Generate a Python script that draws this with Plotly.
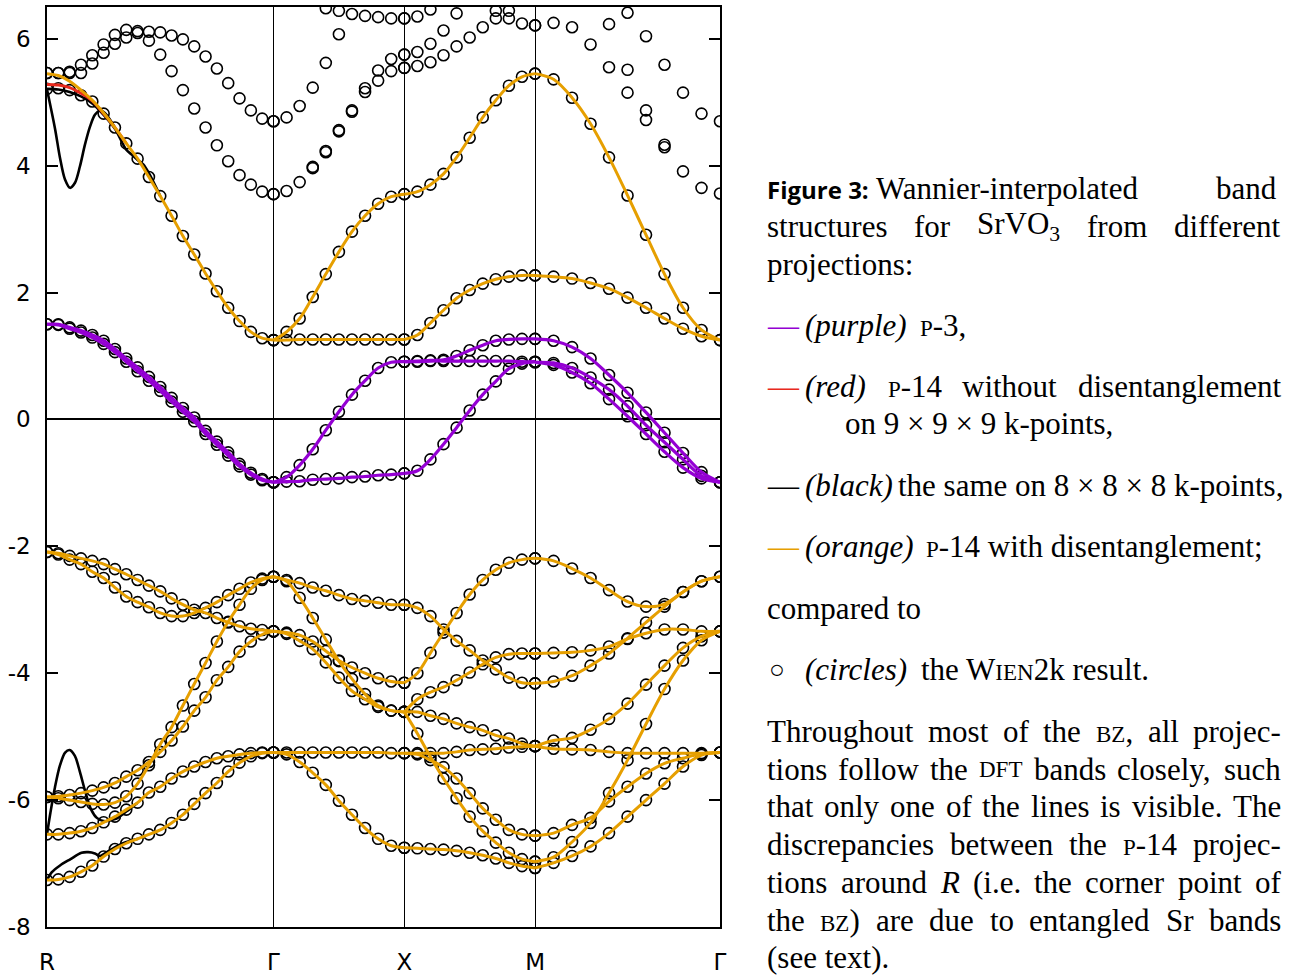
import numpy as np
import plotly.graph_objects as go

# ---------------- k-path ----------------
SYM_LABELS = ["R", "Γ", "X", "M", "Γ"]
SEG_LEN = [0.8660, 0.5000, 0.5000, 0.7071]
SEG_NK = [21, 11, 11, 11]
K_SYM = np.concatenate([[0.0], np.cumsum(SEG_LEN)])

# ---------------- band energies (eV) ----------------
# R - Gamma (21 k-points)
RG_T1 = [1.50, 1.50, 1.45, 1.40, 1.33, 1.24, 1.11, 0.96, 0.82, 0.67, 0.51, 0.34, 0.18, 0.03, -0.18, -0.35, -0.52, -0.70, -0.84, -0.94, -0.99]
RG_T2 = [1.50, 1.49, 1.43, 1.37, 1.29, 1.19, 1.06, 0.91, 0.76, 0.61, 0.45, 0.28, 0.12, -0.03, -0.23, -0.40, -0.57, -0.74, -0.87, -0.96, -0.99]
RG_EG = [5.21, 5.22, 5.19, 5.11, 5.01, 4.82, 4.60, 4.35, 4.11, 3.82, 3.52, 3.21, 2.89, 2.60, 2.30, 2.02, 1.76, 1.55, 1.38, 1.28, 1.25]
RG_A = [-2.09, -2.11, -2.15, -2.19, -2.23, -2.28, -2.36, -2.44, -2.53, -2.62, -2.71, -2.82, -2.92, -3.00, -3.05, -3.13, -3.20, -3.26, -3.30, -3.32, -3.34]
RG_B = [-2.09, -2.13, -2.21, -2.28, -2.40, -2.50, -2.65, -2.79, -2.88, -2.96, -3.05, -3.10, -3.10, -3.05, -2.97, -2.88, -2.77, -2.67, -2.57, -2.51, -2.48]
RG_S1 = [-5.95, -5.97, -6.00, -6.03, -6.06, -6.07, -6.04, -5.94, -5.74, -5.45, -5.12, -4.85, -4.51, -4.17, -3.84, -3.50, -3.19, -2.92, -2.67, -2.53, -2.48]
RG_S2 = [-5.95, -5.94, -5.92, -5.89, -5.85, -5.80, -5.73, -5.63, -5.53, -5.40, -5.24, -5.06, -4.84, -4.59, -4.38, -4.11, -3.90, -3.66, -3.50, -3.39, -3.34]
RG_C = [-6.54, -6.54, -6.52, -6.49, -6.44, -6.35, -6.26, -6.15, -6.04, -5.88, -5.79, -5.66, -5.55, -5.47, -5.40, -5.34, -5.31, -5.28, -5.26, -5.25, -5.25]
RG_D = [-7.26, -7.25, -7.21, -7.13, -7.03, -6.89, -6.77, -6.68, -6.61, -6.54, -6.47, -6.36, -6.23, -6.06, -5.89, -5.73, -5.55, -5.41, -5.31, -5.26, -5.25]

# Gamma - X (11 k-points)
GX_T_UP = [-0.99, -0.91, -0.72, -0.47, -0.17, 0.12, 0.39, 0.61, 0.81, 0.90, 0.91]
GX_T_FLAT = [-0.99, -0.98, -0.975, -0.95, -0.94, -0.93, -0.91, -0.90, -0.88, -0.87, -0.85]
GX_EG_UP = [1.25, 1.38, 1.59, 1.93, 2.29, 2.64, 2.96, 3.21, 3.40, 3.51, 3.55]
GX_EG_FLAT = [1.25, 1.25, 1.26, 1.26, 1.26, 1.26, 1.26, 1.26, 1.26, 1.26, 1.26]
GX_1 = [-2.48, -2.53, -2.58, -2.65, -2.70, -2.77, -2.83, -2.86, -2.89, -2.92, -2.92]
GX_2 = [-2.48, -2.55, -2.81, -3.13, -3.47, -3.81, -4.09, -4.33, -4.51, -4.59, -4.61]
GX_3 = [-3.34, -3.36, -3.40, -3.50, -3.65, -3.80, -3.91, -4.00, -4.08, -4.13, -4.15]
GX_4 = [-3.34, -3.38, -3.49, -3.62, -3.83, -4.07, -4.28, -4.41, -4.53, -4.59, -4.61]
GX_5 = [-5.25, -5.25, -5.25, -5.25, -5.25, -5.25, -5.25, -5.25, -5.25, -5.26, -5.26]
GX_6 = [-5.25, -5.28, -5.40, -5.57, -5.76, -6.01, -6.23, -6.44, -6.61, -6.72, -6.75]

# X - M (11 k-points)
XM_T_LOW = [-0.85, -0.81, -0.63, -0.39, -0.13, 0.14, 0.39, 0.60, 0.80, 0.88, 0.91]
XM_T_FLAT = [0.91, 0.91, 0.92, 0.92, 0.92, 0.92, 0.92, 0.92, 0.92, 0.91, 0.91]
XM_T_UP = [0.91, 0.92, 0.93, 0.94, 1.00, 1.09, 1.17, 1.24, 1.26, 1.27, 1.27]
XM_EG_UP = [3.55, 3.59, 3.70, 3.87, 4.13, 4.44, 4.76, 5.03, 5.26, 5.40, 5.45]
XM_EG_LOW = [1.26, 1.33, 1.52, 1.72, 1.91, 2.04, 2.14, 2.21, 2.25, 2.27, 2.27]
XM_1 = [-2.92, -2.97, -3.10, -3.31, -3.49, -3.64, -3.80, -3.94, -4.07, -4.15, -4.16]
XM_2 = [-4.15, -4.00, -3.68, -3.36, -3.05, -2.76, -2.53, -2.37, -2.26, -2.21, -2.19]
XM_3 = [-4.61, -4.41, -4.30, -4.22, -4.11, -3.99, -3.86, -3.75, -3.70, -3.69, -3.69]
XM_4 = [-4.61, -4.61, -4.67, -4.72, -4.79, -4.85, -4.90, -4.98, -5.03, -5.11, -5.15]
XM_5 = [-5.26, -5.26, -5.26, -5.26, -5.24, -5.21, -5.20, -5.19, -5.17, -5.16, -5.15]
XM_6 = [-4.61, -4.95, -5.32, -5.66, -5.97, -6.26, -6.49, -6.67, -6.83, -6.93, -6.97]
XM_7 = [-5.26, -5.28, -5.37, -5.48, -5.66, -5.89, -6.13, -6.31, -6.47, -6.54, -6.56]
XM_8 = [-6.75, -6.76, -6.77, -6.78, -6.80, -6.83, -6.87, -6.92, -6.99, -7.04, -7.07]

# M - Gamma (11 k-points)
MG_T1 = [1.27, 1.24, 1.14, 0.96, 0.70, 0.42, 0.11, -0.21, -0.53, -0.83, -0.99]
MG_T2 = [0.90, 0.89, 0.81, 0.66, 0.47, 0.21, -0.09, -0.36, -0.63, -0.89, -0.99]
MG_T3 = [0.90, 0.86, 0.74, 0.57, 0.32, 0.05, -0.23, -0.51, -0.76, -0.93, -0.99]
MG_EG_UP = [5.45, 5.36, 5.07, 4.66, 4.13, 3.53, 2.91, 2.29, 1.76, 1.41, 1.25]
MG_EG_LOW = [2.27, 2.25, 2.22, 2.15, 2.06, 1.92, 1.76, 1.59, 1.43, 1.31, 1.25]
MG_1 = [-2.19, -2.23, -2.35, -2.50, -2.69, -2.87, -2.95, -2.91, -2.72, -2.55, -2.48]
MG_2 = [-3.69, -3.68, -3.67, -3.64, -3.58, -3.46, -3.37, -3.31, -3.31, -3.34, -3.34]
MG_3 = [-4.16, -4.13, -4.04, -3.88, -3.69, -3.45, -3.20, -2.95, -2.72, -2.55, -2.48]
MG_4 = [-5.15, -5.06, -5.02, -4.89, -4.72, -4.48, -4.18, -3.88, -3.60, -3.42, -3.34]
MG_5 = [-5.15, -5.19, -5.20, -5.21, -5.24, -5.26, -5.26, -5.26, -5.26, -5.26, -5.25]
MG_6 = [-6.56, -6.52, -6.39, -6.28, -6.02, -5.79, -5.58, -5.42, -5.34, -5.27, -5.25]
MG_7 = [-6.97, -6.90, -6.66, -6.36, -5.89, -5.37, -4.80, -4.25, -3.80, -3.48, -3.34]
MG_8 = [-7.07, -6.99, -6.88, -6.73, -6.52, -6.26, -6.00, -5.74, -5.47, -5.29, -5.25]

# higher DFT bands (circles only; None = outside the window)
HI_RG_1 = [5.46, 5.46, 5.48, 5.59, 5.74, 5.91, 6.06, 6.14, 6.12, 6.11, 6.10, 6.05, 5.99, 5.88, 5.72, 5.53, 5.30, 5.06, 4.87, 4.74, 4.70]
HI_RG_2 = [5.46, 5.46, 5.46, 5.46, 5.61, 5.78, 5.92, 6.02, 6.09, 5.97, 5.75, 5.49, 5.19, 4.90, 4.60, 4.32, 4.07, 3.85, 3.70, 3.59, 3.55]
HI_GX_1 = [4.70, 4.76, 4.94, 5.23, 5.62, 6.07, None, None, None, None, None]
HI_GX_2 = [3.55, 3.60, 3.74, 3.96, 4.21, 4.54, 4.87, 5.22, 5.50, 5.68, 5.75]
HI_GX_3 = [None, None, None, 3.98, 4.23, 4.56, 4.85, 5.16, 5.34, 5.49, 5.54]
HI_GX_4 = [None, None, None, None, 6.48, 6.44, 6.39, 6.36, 6.34, 6.32, 6.32]
HI_XM_1 = [5.75, 5.79, 5.92, 6.13, None, None, None, None, None, None, None]
HI_XM_2 = [5.54, 5.57, 5.63, 5.74, 5.88, 6.02, 6.18, 6.32, 6.32, 6.24, 6.21]
HI_XM_3 = [6.32, 6.35, 6.46, None, 6.40, None, None, 6.44, 6.44, None, None]
HI_MG_1 = [6.21, 6.25, 6.18, 5.91, 5.55, 5.15, 4.72, 4.29, 3.91, 3.65, 3.56]
HI_MG_2 = [None, None, None, None, 6.23, 5.51, 4.87, 4.33, None, None, None]
HI_MG_3 = [None, None, None, None, None, 6.41, 6.04, 5.59, 5.15, 4.82, 4.70]

# Wannier curves that deviate near R (k in units of R-Gamma k-point index)
ORANGE_EG_HEAD = [5.45, 5.42, 5.33, 5.19, 5.03, 4.83]
RED_EG_HEAD = [5.28, 5.27, 5.23, 5.14, 5.02]
BLACK_EG1_I = [0.0, 0.7, 1.15, 1.59, 2.03, 2.47, 2.91, 3.35, 3.79, 4.23, 4.67, 5.11, 6.0]
BLACK_EG1_E = [5.20, 4.59, 4.12, 3.78, 3.65, 3.73, 3.99, 4.33, 4.61, 4.80, 4.87, 4.83, 4.60]
BLACK_EG2_I = [0, 1, 2, 3, 4, 5, 6, 7, 7.5, 8, 8.5, 9, 10]
BLACK_EG2_E = [5.21, 5.20, 5.16, 5.09, 4.98, 4.80, 4.58, 4.25, 4.17, 4.09, 4.02, 3.88, 3.52]
BLACK_LO1_I = [0, 0.3, 0.7, 1.15, 1.6, 2.0, 2.45, 2.9, 3.4, 3.9, 4.4, 5.0, 6.0, 7.0, 8.0]
BLACK_LO1_E = [-6.54, -6.20, -5.80, -5.45, -5.25, -5.21, -5.30, -5.55, -5.88, -6.15, -6.28, -6.33, -6.30, -6.18, -6.04]
BLACK_LO2_I = [0, 0.41, 1.15, 2.08, 3.05, 3.64, 4.23, 4.67, 5.55, 6.72, 8.04]
BLACK_LO2_E = [-7.26, -7.14, -7.03, -6.93, -6.83, -6.82, -6.84, -6.88, -6.79, -6.68, -6.61]

Y_TICKS = [-8, -6, -4, -2, 0, 2, 4, 6]
Y_TICK_TEXT = ["-8", "-6", "-4", "-2", "0", "2", "4", "6"]

PURPLE = "#9400d3"
ORANGE = "#e69f00"
RED = "#e8291c"
BLACK = "#000000"


def kgrid(seg):
    return np.linspace(K_SYM[seg], K_SYM[seg + 1], SEG_NK[seg])


def kidx(seg, idx):
    return K_SYM[seg] + np.asarray(idx, dtype=float) * SEG_LEN[seg] / (SEG_NK[seg] - 1)


SEGMENTS = [
    (0, [RG_T1, RG_T2], [RG_A, RG_B, RG_S1, RG_S2, RG_C, RG_D], RG_EG, [HI_RG_1, HI_RG_2]),
    (1, [GX_T_UP, GX_T_FLAT], [GX_EG_UP, GX_EG_FLAT, GX_1, GX_2, GX_3, GX_4, GX_5, GX_6], None, [HI_GX_1, HI_GX_2, HI_GX_3, HI_GX_4]),
    (2, [XM_T_LOW, XM_T_FLAT, XM_T_UP], [XM_EG_UP, XM_EG_LOW, XM_1, XM_2, XM_3, XM_4, XM_5, XM_6, XM_7, XM_8], None, [HI_XM_1, HI_XM_2, HI_XM_3]),
    (3, [MG_T1, MG_T2, MG_T3], [MG_EG_UP, MG_EG_LOW, MG_1, MG_2, MG_3, MG_4, MG_5, MG_6, MG_7, MG_8], None, [HI_MG_1, HI_MG_2, HI_MG_3]),
]

fig = go.Figure()

# ---- DFT circles ----
cx, cy = [], []
for seg, tb, ob, eg, hi in SEGMENTS:
    k = kgrid(seg)
    bands = list(tb) + list(ob) + ([eg] if eg is not None else []) + list(hi)
    for b in bands:
        for kk, e in zip(k, b):
            if e is not None:
                cx.append(kk)
                cy.append(e)
fig.add_trace(go.Scatter(x=cx, y=cy, mode="markers",
                         marker=dict(symbol="circle-open", size=11, color="black",
                                     line=dict(width=1.6, color="black")),
                         hoverinfo="skip", showlegend=False, cliponaxis=True))

LW = 3.0


def add_line(x, y, color, width=LW):
    fig.add_trace(go.Scatter(x=x, y=y, mode="lines",
                             line=dict(color=color, width=width, shape="spline", smoothing=0.9),
                             hoverinfo="skip", showlegend=False))


# ---- black (8x8x8) deviating curves near R ----
add_line(kidx(0, BLACK_EG1_I), BLACK_EG1_E, BLACK, 2.6)
add_line(kidx(0, BLACK_EG2_I), BLACK_EG2_E, BLACK, 2.6)
add_line(kidx(0, BLACK_LO1_I), BLACK_LO1_E, BLACK, 2.6)
add_line(kidx(0, BLACK_LO2_I), BLACK_LO2_E, BLACK, 2.6)

# ---- red (9x9x9) near R ----
add_line(kgrid(0)[:8], RED_EG_HEAD + RG_EG[len(RED_EG_HEAD):8], RED, 3.0)

# ---- orange: p-14 with disentanglement ----
for seg, tb, ob, eg, hi in SEGMENTS:
    k = kgrid(seg)
    for b in ob:
        add_line(k, b, ORANGE)
    if eg is not None:
        add_line(k, ORANGE_EG_HEAD + eg[len(ORANGE_EG_HEAD):], ORANGE)

# ---- purple: p-3 ----
for seg, tb, ob, eg, hi in SEGMENTS:
    k = kgrid(seg)
    for b in tb:
        add_line(k, b, PURPLE, 3.2)

# ---------------- caption ----------------
PL, PR, PT, PB = 47, 720, 5, 932
W, H = 1312, 980
SERIF = "Liberation Serif"
FS = 31
SC = 23  # small caps size
LEFT, RIGHT = 765, 1279

# Times-compatible advance widths (1/1000 em) used to lay out the caption words
_ROMAN = dict(zip("abcdefghijklmnopqrstuvwxyz",
                  [444, 500, 444, 500, 444, 333, 500, 500, 278, 278, 500, 278, 778, 500, 500, 500, 500, 333, 389, 278, 500, 500, 722, 500, 500, 444]))
_ROMAN.update(zip("ABCDEFGHIJKLMNOPQRSTUVWXYZ",
                  [722, 667, 667, 722, 611, 556, 722, 722, 333, 389, 722, 611, 889, 722, 722, 556, 722, 667, 556, 611, 722, 722, 944, 722, 722, 611]))
_ROMAN.update({c: 500 for c in "0123456789"})
_ROMAN.update({" ": 250, ".": 250, ",": 250, "-": 333, "(": 333, ")": 333, ":": 278, ";": 278, "×": 564, "—": 1000})
_ITALIC = dict(_ROMAN)
_ITALIC.update(zip("abcdefghijklmnopqrstuvwxyz",
                   [500, 500, 444, 500, 444, 278, 500, 500, 278, 278, 444, 278, 722, 500, 500, 500, 500, 389, 389, 278, 500, 444, 667, 444, 444, 389]))
_ITALIC.update({"R": 611})


def run_width(text, kind):
    table = _ITALIC if kind == "i" else _ROMAN
    size = {"r": FS, "i": FS, "sc": SC, "sub": FS * 0.7}[kind]
    return sum(table.get(c, 500) for c in text) * size / 1000.0


def run_markup(text, kind):
    if kind == "i":
        return "<i>%s</i>" % text
    if kind == "sc":
        return '<span style="font-size:%dpx">%s</span>' % (SC, text)
    if kind == "sub":
        return "<sub>%s</sub>" % text
    return text


def word(*runs):
    if len(runs) == 1 and isinstance(runs[0], str):
        runs = ((runs[0], "r"),)
    return ("".join(run_markup(t, k) for t, k in runs), sum(run_width(t, k) for t, k in runs))


def justify(words, y, x0=LEFT, x1=RIGHT):
    words = [word(w) if isinstance(w, str) else w for w in words]
    total = sum(w for _, w in words)
    gap = (x1 - x0 - total) / (len(words) - 1)
    out, x = [], x0
    for mk, w in words:
        out.append((mk, x, y, "left"))
        x += w + gap
    return out


def legend_row(symbol, label, rest, y, gap=13):
    lab = word((label, "i"))
    x_rest = 803 + lab[1] + gap
    return [(symbol, LEFT if "—" in symbol else 777, y, "left" if "—" in symbol else "center"),
            (lab[0], 803, y, "left"),
            (rest, x_rest, y, "left")]


def dash(col):
    return '<span style="color:%s">—</span>' % col


FIG_LABEL = '<span style="font-family:Open Sans;font-weight:bold;font-size:24px">Figure 3:</span>'

CAPTION = []
CAPTION += [(FIG_LABEL + " Wannier-interpolated", LEFT, 188, "left"), ("band", RIGHT, 188, "right")]
CAPTION += justify(["structures", "for", word(("SrVO", "r"), ("3", "sub")), "from", "different"], 226)
CAPTION += [("projections:", LEFT, 264, "left")]
CAPTION += legend_row(dash(PURPLE), "(purple)", run_markup("P", "sc") + "-3,", 326)
CAPTION += [(dash(RED), LEFT, 387, "left")]
CAPTION += justify([word(("(red)", "i")), word(("P", "sc"), ("-14", "r")), "without", "disentanglement"], 387, 803)
CAPTION += [("on 9 × 9 × 9 k-points,", 843, 425, "left")]
CAPTION += legend_row(dash(BLACK), "(black)", "the same on 8 × 8 × 8 k-points,", 487, gap=5)
CAPTION += legend_row(dash(ORANGE), "(orange)", run_markup("P", "sc") + "-14 with disentanglement;", 549)
CAPTION += [("compared to", LEFT, 611, "left")]
CAPTION += legend_row('<span style="font-size:26px">○</span>', "(circles)",
                      "the W" + run_markup("IEN", "sc") + "2k result.", 673)
CAPTION += justify(["Throughout", "most", "of", "the", word(("BZ", "sc"), (",", "r")), "all", "projec-"], 735)
CAPTION += justify(["tions", "follow", "the", word(("DFT", "sc")), "bands", "closely,", "such"], 773)
CAPTION += justify(["that", "only", "one", "of", "the", "lines", "is", "visible.", "The"], 811)
CAPTION += justify(["discrepancies", "between", "the", word(("P", "sc"), ("-14", "r")), "projec-"], 849)
CAPTION += justify(["tions", "around", word(("R", "i")), "(i.e.", "the", "corner", "point", "of"], 887)
CAPTION += justify(["the", word(("BZ", "sc"), (")", "r")), "are", "due", "to", "entangled", "Sr", "bands"], 925)
CAPTION += [("(see text).", LEFT, 963, "left")]

annotations = []
for text, px, py, al in CAPTION:
    annotations.append(dict(
        text=text, xref="paper", yref="paper",
        x=(px - PL) / (PR - PL), y=(PB - py) / (PB - PT),
        xanchor=al, yanchor="middle", showarrow=False, align=al,
        font=dict(family=SERIF, size=FS, color="black")))

fig.update_layout(
    width=W, height=H,
    margin=dict(l=PL, r=W - PR, t=PT, b=H - PB, pad=0),
    plot_bgcolor="white", paper_bgcolor="white",
    showlegend=False,
    annotations=annotations,
    xaxis=dict(range=[K_SYM[0], K_SYM[-1]], tickvals=list(K_SYM), ticktext=SYM_LABELS,
               showgrid=True, gridcolor="black", gridwidth=1.3, zeroline=False,
               showline=True, linecolor="black", linewidth=1.5, mirror=True,
               ticks="", ticklabelstandoff=14,
               tickfont=dict(family="DejaVu Sans", size=23, color="black")),
    yaxis=dict(range=[-8, 6.5], tickvals=Y_TICKS, ticktext=Y_TICK_TEXT,
               showgrid=False, zeroline=True, zerolinecolor="black", zerolinewidth=1.5,
               showline=True, linecolor="black", linewidth=1.5, mirror="ticks",
               ticks="inside", ticklen=11, tickwidth=1.5, tickcolor="black",
               ticklabelstandoff=10,
               tickfont=dict(family="DejaVu Sans", size=23, color="black")),
)

fig.write_html("out.html")
